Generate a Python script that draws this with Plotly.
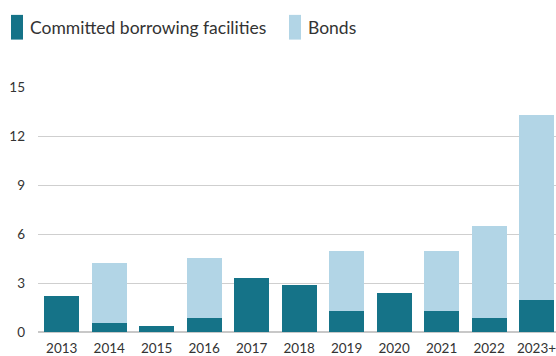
import plotly.graph_objects as go

years = ["2013", "2014", "2015", "2016", "2017", "2018", "2019", "2020", "2021", "2022", "2023+"]
committed = [2.2, 0.56, 0.38, 0.86, 3.28, 2.85, 1.29, 2.37, 1.29, 0.86, 1.97]
bonds = [0, 3.68, 0, 3.68, 0, 0, 3.68, 0, 3.68, 5.62, 11.33]
y_ticks = [0, 3, 6, 9, 12, 15]

teal = "#157388"
light = "#b2d5e6"
txt = "#333333"
font = "Lato, 'Noto Sans', sans-serif"

fig = go.Figure()
fig.add_trace(go.Bar(x=years, y=committed, name="Committed borrowing facilities",
                     marker=dict(color=teal, line=dict(width=0))))
fig.add_trace(go.Bar(x=years, y=bonds, name="Bonds",
                     marker=dict(color=light, line=dict(width=0))))

fig.update_layout(
    width=556, height=356,
    barmode="stack", bargap=0.262,
    showlegend=False,
    plot_bgcolor="white", paper_bgcolor="white",
    margin=dict(l=38, r=0, t=87, b=21),
    font=dict(family=font, color=txt, size=13),
    xaxis=dict(range=[-0.5, 10.41], showgrid=False, ticks="", showline=False,
               ticklabelstandoff=6, tickfont=dict(size=13.5, color=txt)),
    yaxis=dict(range=[0, 15], tickvals=y_ticks, showgrid=True, gridcolor="#cfcfcf",
               gridwidth=1, zeroline=True, zerolinecolor="#c8c8c8", zerolinewidth=2,
               ticks="", ticklabelstandoff=12, tickfont=dict(size=13.5, color=txt)),
)

# Manual legend
legend_items = [("Committed borrowing facilities", teal, 11), ("Bonds", light, 289)]
for label, color, x0 in legend_items:
    fig.add_shape(type="rect", xref="paper", yref="paper",
                  x0=(x0 - 38) / 518, x1=(x0 + 12 - 38) / 518,
                  y0=(356 - 21 - 39) / 248, y1=(356 - 21 - 14) / 248,
                  fillcolor=color, line=dict(width=0))
    fig.add_annotation(text=label, xref="paper", yref="paper",
                       x=(x0 + 17 - 38) / 518, y=(356 - 21 - 27) / 248,
                       xanchor="left", yanchor="middle", showarrow=False,
                       font=dict(size=17.5, color=txt, family=font))

fig.write_html("out.html", config={"displayModeBar": False},
               post_script="document.body.style.margin='0';")
